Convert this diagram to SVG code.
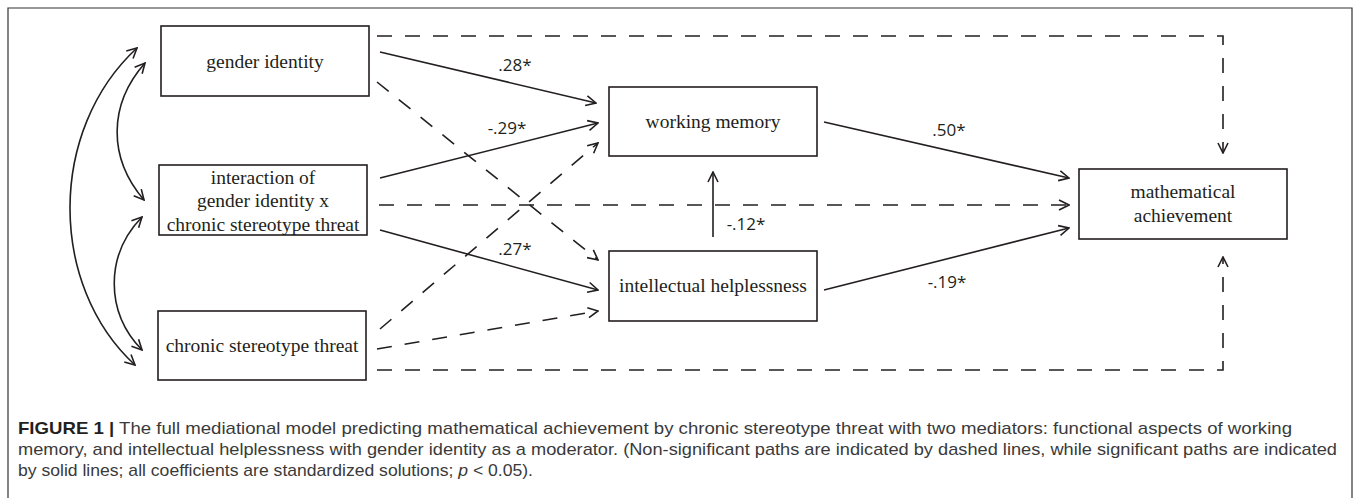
<svg xmlns="http://www.w3.org/2000/svg" width="1360" height="498" viewBox="0 0 1360 498">
<style>
.box{fill:#fff;stroke:#231f20;stroke-width:1.6}
.nt{font-family:"Liberation Serif","Times New Roman",serif;font-size:19.5px;fill:#231f20;text-anchor:middle}
.ln{fill:none;stroke:#231f20;stroke-width:1.6}
.ds{stroke-dasharray:15 13}
.lb{font-family:"Open Sans","Liberation Sans",sans-serif;font-size:17px;fill:#231f20;text-anchor:middle}
.cap{font-family:"Liberation Sans",Arial,sans-serif;font-size:17px;fill:#3a3a3a}
</style>
<defs>
<marker id="ah" viewBox="0 0 12 12" markerWidth="12" markerHeight="12" refX="11" refY="6" orient="auto-start-reverse" markerUnits="userSpaceOnUse">
<path d="M1,1 L11,6 L1,11" fill="none" stroke="#231f20" stroke-width="1.6" stroke-dasharray="none"/>
</marker>
</defs>
<rect width="1360" height="498" fill="#fff"/>
<path d="M8,498 V8 H1352 V498" fill="none" stroke="#333" stroke-width="1.2"/>

<g id="connectors">
<path class="ln" d="M137,48 C48,130 48,285 135,365" marker-start="url(#ah)" marker-end="url(#ah)"/>
<path class="ln" d="M145,63 C108,105 108,158 144,200" marker-start="url(#ah)" marker-end="url(#ah)"/>
<path class="ln" d="M142,217 C105,255 105,312 142,350" marker-start="url(#ah)" marker-end="url(#ah)"/>

<path class="ln ds" d="M377,36 H1223 V153" marker-end="url(#ah)"/>
<path class="ln ds" d="M377,370 H1223 V257" marker-end="url(#ah)"/>
<path class="ln" d="M380,52 L596,103" marker-end="url(#ah)"/>
<path class="ln ds" d="M377,82 L598,260" marker-end="url(#ah)"/>
<path class="ln" d="M380,178 L598,123" marker-end="url(#ah)"/>
<path class="ln ds" d="M379,205 L1069,205" marker-end="url(#ah)"/>
<path class="ln" d="M380,230 L598,290" marker-end="url(#ah)"/>
<path class="ln ds" d="M380,329 L598,143" marker-end="url(#ah)"/>
<path class="ln ds" d="M377,349 L598,311" marker-end="url(#ah)"/>
<path class="ln" d="M824,122 L1069,178" marker-end="url(#ah)"/>
<path class="ln" d="M824,290 L1069,228" marker-end="url(#ah)"/>
<path class="ln" d="M713,237 L713,172" marker-end="url(#ah)"/>

<text class="lb" x="515" y="71">.28*</text>
<text class="lb" x="507" y="134">-.29*</text>
<text class="lb" x="515" y="255">.27*</text>
<text class="lb" x="746" y="230">-.12*</text>
<text class="lb" x="949" y="136">.50*</text>
<text class="lb" x="947" y="288">-.19*</text>
</g>

<g id="gender-identity">
<rect class="box" x="161" y="26" width="208" height="70"/>
<text class="nt" x="265" y="68">gender identity</text>
</g>
<g id="interaction">
<rect class="box" x="159" y="165" width="208" height="70"/>
<text class="nt" x="263" y="184">interaction of</text>
<text class="nt" x="263" y="207">gender identity x</text>
<text class="nt" x="263" y="231">chronic stereotype threat</text>
</g>
<g id="chronic-stereotype-threat">
<rect class="box" x="158" y="311" width="208" height="69"/>
<text class="nt" x="262" y="352">chronic stereotype threat</text>
</g>
<g id="working-memory">
<rect class="box" x="609" y="87" width="208" height="69"/>
<text class="nt" x="713" y="128">working memory</text>
</g>
<g id="intellectual-helplessness">
<rect class="box" x="609" y="251" width="208" height="70"/>
<text class="nt" x="713" y="292">intellectual helplessness</text>
</g>
<g id="mathematical-achievement">
<rect class="box" x="1079" y="169" width="208" height="70"/>
<text class="nt" x="1183" y="198">mathematical</text>
<text class="nt" x="1183" y="222">achievement</text>
</g>

<g id="caption">
<text class="cap" x="18" y="434" textLength="1274" lengthAdjust="spacingAndGlyphs"><tspan font-weight="bold" fill="#231f20">FIGURE 1 |</tspan> The full mediational model predicting mathematical achievement by chronic stereotype threat with two mediators: functional aspects of working</text>
<text class="cap" x="18" y="455" textLength="1319" lengthAdjust="spacingAndGlyphs">memory, and intellectual helplessness with gender identity as a moderator. (Non-significant paths are indicated by dashed lines, while significant paths are indicated</text>
<text class="cap" x="18" y="476" textLength="515" lengthAdjust="spacingAndGlyphs">by solid lines; all coefficients are standardized solutions; <tspan font-style="italic">p</tspan> &lt; 0.05).</text>
</g>
</svg>
